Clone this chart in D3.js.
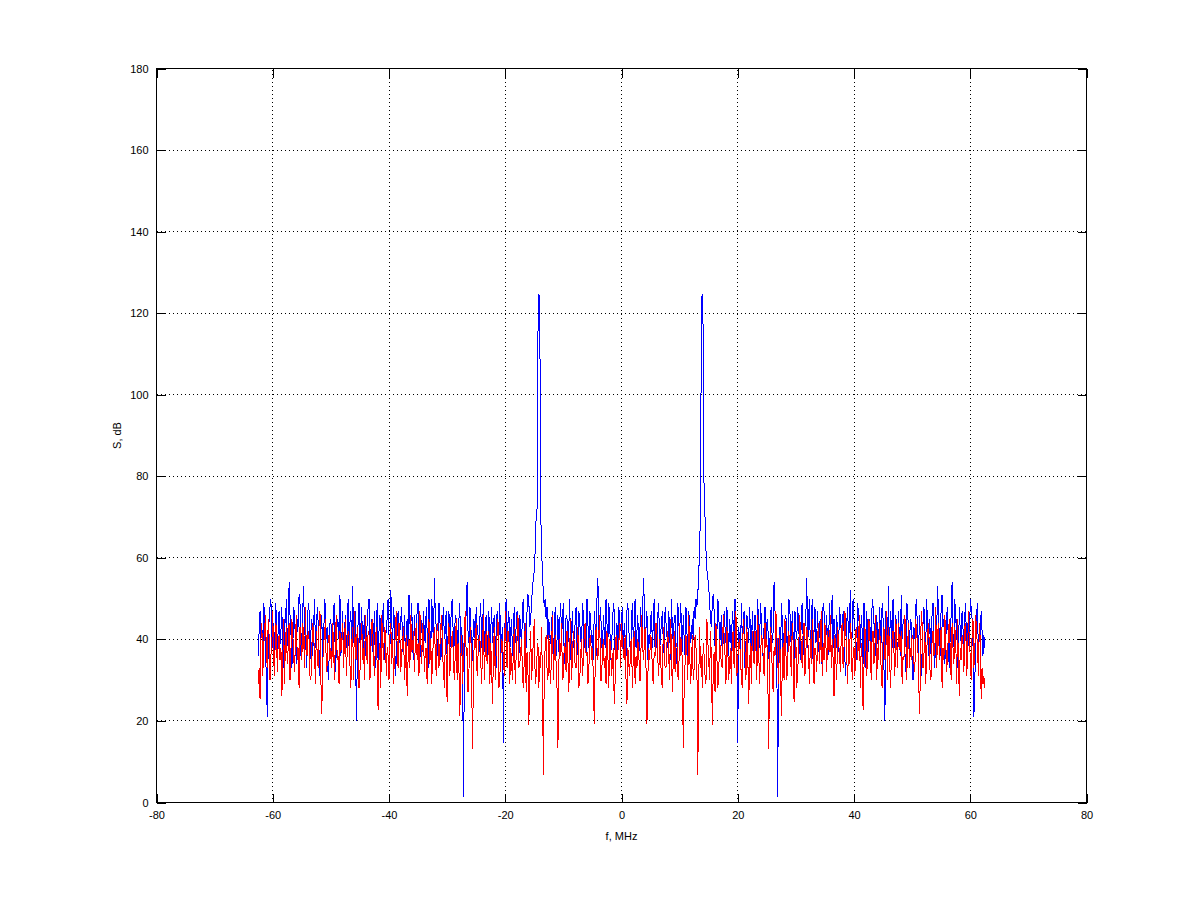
<!DOCTYPE html>
<html>
<head>
<meta charset="utf-8">
<script src="https://cdn.jsdelivr.net/npm/d3@7"></script>
<style>
  body { margin: 0; background: #fff; }
  svg { display: block; }
  text { font-family: "Liberation Sans", Arial, sans-serif; font-size: 11px; fill: #000; }
</style>
</head>
<body>
<div id="spectrum"></div>
<script>
// frequency grid of the spectrum (MHz), FFT bins
const freqStart = -62.5;
const freqStep = 0.15625;

const xTicks = [-80, -60, -40, -20, 0, 20, 40, 60, 80];
const yTicks = [0, 20, 40, 60, 80, 100, 120, 140, 160, 180];

// spectrum with the tones, dB
const blueDb = [
  36, 42, 47, 40, 44, 35, 49, 46, 38, 30, 21, 39, 45, 48, 50, 37, 41, 44, 35, 49, 46, 34, 43, 47, 39, 42, 48, 36, 33, 45, 44, 50, 40, 38, 54, 46, 42, 33, 37, 48,
  46, 39, 34, 45, 43, 51, 49, 36, 40, 47, 53, 41, 45, 33, 38, 49, 47, 35, 42, 45, 36, 43, 50, 38, 41, 48, 44, 37, 31, 42, 46, 34, 39, 50, 48, 40, 43, 30, 35, 44,
  45, 37, 41, 48, 49, 32, 37, 45, 44, 40, 51, 36, 40, 47, 33, 42, 46, 38, 42, 50, 38, 44, 47, 35, 53, 39, 43, 47, 20, 33, 45, 49, 39, 43, 48, 36, 41, 46, 36, 41,
  44, 48, 50, 36, 42, 45, 37, 41, 47, 33, 40, 49, 34, 42, 46, 38, 43, 46, 49, 35, 38, 43, 45, 50, 41, 37, 52, 44, 39, 48, 44, 31, 35, 42, 47, 39, 42, 45, 48, 37,
  40, 46, 36, 42, 45, 38, 51, 44, 43, 49, 38, 35, 46, 40, 41, 47, 49, 39, 34, 45, 44, 37, 47, 41, 39, 48, 42, 33, 50, 43, 37, 50, 45, 38, 55, 46, 43, 36, 40, 49,
  46, 35, 38, 44, 48, 40, 42, 47, 35, 41, 47, 37, 44, 49, 50, 36, 40, 46, 45, 42, 37, 45, 49, 33, 43, 38, 1.3, 36, 41, 47, 54, 42, 39, 48, 46, 34, 36, 45, 44, 39,
  48, 43, 41, 36, 45, 49, 38, 42, 50, 37, 43, 46, 36, 41, 47, 35, 42, 48, 39, 44, 46, 39, 33, 47, 44, 40, 49, 36, 40, 43, 14.7, 41, 45, 50, 38, 44, 47, 37, 42, 45,
  36, 44, 48, 39, 43, 47, 40, 35, 46, 42, 38, 48, 50, 41, 44, 38, 47, 51, 49, 43, 45, 49, 53, 55, 57, 62, 70, 72, 115, 124.7, 123, 72, 62, 56, 51, 48, 50, 45, 48, 40,
  45, 41, 39, 44, 47, 36, 42, 48, 36, 40, 46, 37, 44, 49, 40, 45, 49, 34, 38, 46, 45, 39, 43, 50, 35, 42, 47, 38, 41, 44, 48, 36, 39, 47, 44, 41, 37, 49, 46, 38,
  42, 37, 50, 44, 38, 47, 45, 39, 41, 35, 47, 43, 36, 50, 55, 41, 43, 48, 40, 36, 46, 42, 38, 50, 44, 39, 49, 45, 35, 40, 42, 49, 47, 36, 40, 44, 37, 48, 45, 42,
  45, 48, 37, 44, 40, 36, 47, 49, 42, 40, 35, 45, 49, 39, 44, 50, 38, 42, 46, 36, 40, 48, 43, 41, 55, 50, 36, 43, 47, 35, 41, 39, 45, 47, 38, 44, 50, 37, 42,
  38, 46, 49, 37, 41, 44, 47, 39, 36, 48, 44, 41, 38, 47, 42, 35, 50, 43, 39, 45, 46, 38, 34, 49, 45, 40, 49, 44, 37, 46, 40, 36, 48, 42, 36, 47, 44, 39, 41, 45,
  40, 48, 45, 50, 48, 51, 56, 62, 72, 123, 124.7, 115, 72, 70, 62, 57, 55, 53, 49, 45, 43, 49, 51, 47, 38, 44, 41, 50, 48, 38, 42, 46, 35, 40, 47, 43, 39, 48, 44, 36,
  45, 42, 37, 47, 44, 38, 50, 45, 41, 14.7, 43, 40, 36, 49, 40, 44, 47, 33, 39, 46, 44, 39, 48, 42, 35, 47, 41, 36, 46, 43, 37, 50, 42, 38, 49, 45, 36, 41, 43, 48,
  39, 44, 45, 36, 34, 46, 48, 39, 42, 54, 47, 41, 36, 1.3, 38, 43, 33, 49, 45, 37, 42, 45, 46, 40, 36, 50, 49, 44, 37, 47, 41, 35, 47, 42, 40, 48, 44, 38, 35, 46,
  49, 40, 36, 43, 46, 55, 38, 45, 50, 37, 43, 50, 33, 42, 48, 39, 41, 47, 37, 44, 45, 34, 39, 49, 47, 41, 40, 46, 35, 38, 49, 43, 44, 51, 38, 45, 42, 36, 46, 40,
  37, 48, 45, 42, 39, 47, 42, 35, 31, 44, 48, 39, 44, 52, 37, 41, 50, 45, 43, 38, 35, 49, 46, 43, 38, 46, 42, 34, 49, 40, 33, 47, 41, 37, 45, 42, 36, 50, 48, 44,
  41, 36, 46, 41, 36, 48, 43, 39, 49, 45, 33, 20, 47, 43, 39, 53, 35, 47, 44, 38, 50, 42, 38, 46, 42, 33, 47, 40, 36, 51, 40, 44, 45, 37, 32, 49, 48, 41, 37, 45,
  44, 35, 30, 43, 40, 48, 50, 39, 34, 46, 42, 31, 37, 44, 48, 41, 38, 50, 43, 36, 45, 42, 35, 47, 49, 38, 33, 45, 41, 53, 47, 40, 36, 49, 51, 43, 45, 34, 39, 46,
  48, 37, 33, 42, 46, 54, 38, 40, 50, 44, 45, 33, 36, 48, 42, 39, 47, 43, 34, 46, 49, 35, 44, 41, 37, 50, 48, 45, 39, 21, 30, 38, 46, 49, 35, 44, 40, 47, 42, 36,
  41, 38
];

// spectrum after suppression, dB
const redDb = [
  29, 33, 25.5, 40, 44, 31, 38, 42, 46, 37, 33, 45, 41, 30, 36, 39, 47, 35, 31, 44, 43, 32, 39, 41, 35, 38, 26, 34, 45, 29, 40, 43, 34, 38, 44, 30, 37, 45, 42, 36,
  32, 40, 46, 35, 38, 28, 43, 39, 35, 44, 41, 33, 48, 37, 36, 42, 40, 31, 30, 38, 44, 41, 37, 29, 42, 36, 33, 44, 47, 30, 21.8, 34, 39, 41, 45, 32, 34, 40, 41, 35,
  38, 33, 44, 38, 30, 41, 46, 35, 36, 29, 42, 37, 39, 44, 33, 40, 45, 31, 37, 42, 41, 34, 28, 39, 43, 30, 47, 36, 35, 43, 40, 28, 32, 39, 44, 35, 38, 30, 46, 38,
  34, 42, 41, 30, 37, 44, 45, 36, 31, 39, 43, 33, 22.8, 35, 39, 28, 46, 40, 35, 43, 42, 31, 38, 36, 30, 41, 44, 34, 40, 29, 36, 42, 47, 38, 33, 44, 41, 32, 37, 39,
  43, 30, 35, 41, 26, 35, 40, 33, 46, 37, 38, 42, 32, 39, 44, 35, 39, 31, 47, 40, 34, 44, 41, 32, 37, 38, 29, 42, 45, 34, 40, 29, 36, 40, 43, 37, 31, 44, 42, 33,
  38, 43, 46, 36, 33, 28, 40, 35, 24.6, 39, 44, 31, 37, 40, 42, 34, 30, 37, 45, 30, 39, 33, 21.3, 35, 41, 29, 35, 42, 47, 36, 38, 27, 32, 40, 43, 30, 13.2, 33, 40, 38,
  44, 31, 36, 40, 41, 35, 29, 38, 46, 30, 38, 42, 34, 36, 42, 29, 39, 33, 24.2, 37, 43, 30, 37, 41, 45, 28, 31, 35, 40, 39, 35, 31, 47, 38, 33, 42, 41, 29, 38, 34,
  30, 38, 43, 29, 36, 41, 46, 33, 34, 37, 40, 31, 28, 36, 44, 27, 37, 32, 19, 35, 42, 30, 35, 40, 45, 29, 31, 36, 39, 28, 36, 33, 43, 29, 6.8, 34, 38, 41, 33, 30,
  41, 33, 29, 38, 46, 30, 37, 41, 34, 28, 13.4, 34, 40, 36, 44, 30, 31, 39, 38, 32, 42, 35, 27, 38, 45, 30, 36, 42, 39, 33, 33, 39, 43, 28, 30, 36, 40, 31, 35, 42,
  44, 36, 37, 29, 32, 40, 41, 35, 38, 31, 19.2, 33, 43, 38, 35, 41, 46, 30, 30, 37, 40, 33, 36, 29, 42, 36, 28, 40, 39, 31, 34, 38, 24.2, 30, 41, 35, 37, 39, 44, 33,
  44, 39, 37, 35, 41, 30, 24.2, 38, 34, 31, 39, 40, 28, 36, 42, 29, 36, 33, 40, 37, 30, 30, 46, 41, 35, 38, 43, 33, 19.2, 31, 38, 35, 41, 40, 32, 29, 37, 36, 44,
  42, 35, 31, 40, 36, 30, 28, 43, 39, 33, 33, 39, 42, 36, 30, 45, 38, 27, 35, 42, 32, 38, 39, 31, 30, 44, 36, 40, 34, 13.4, 28, 34, 41, 37, 30, 46, 38, 29, 33, 41,
  30, 33, 41, 38, 34, 6.8, 29, 43, 33, 36, 28, 39, 36, 31, 29, 45, 40, 35, 30, 42, 35, 19, 32, 37, 27, 44, 36, 28, 31, 40, 37, 34, 33, 46, 41, 36, 29, 43, 38, 30,
  34, 38, 29, 41, 42, 33, 38, 47, 31, 35, 39, 40, 35, 31, 28, 45, 41, 37, 30, 43, 37, 24.2, 33, 39, 29, 42, 36, 34, 42, 38, 30, 46, 38, 29, 35, 41, 40, 36, 31, 44,
  38, 40, 33, 13.2, 30, 43, 40, 32, 27, 38, 36, 47, 42, 35, 29, 41, 35, 21.3, 33, 39, 30, 45, 37, 30, 34, 42, 40, 37, 31, 44, 39, 24.6, 35, 40, 28, 33, 36, 46, 43, 38,
  33, 42, 44, 31, 37, 43, 40, 36, 29, 40, 34, 45, 42, 29, 38, 37, 32, 41, 44, 34, 40, 47, 31, 39, 35, 44, 39, 32, 42, 38, 37, 46, 33, 40, 35, 26, 41, 35, 30, 43,
  39, 37, 32, 41, 44, 33, 38, 47, 42, 36, 29, 40, 34, 44, 41, 30, 36, 38, 31, 42, 43, 35, 40, 46, 28, 39, 35, 22.8, 33, 43, 39, 31, 36, 45, 44, 37, 30, 41, 42, 34,
  38, 46, 30, 38, 35, 44, 39, 32, 28, 40, 43, 35, 36, 47, 30, 43, 39, 28, 34, 41, 42, 37, 31, 45, 40, 33, 44, 39, 37, 42, 29, 36, 35, 46, 41, 30, 38, 44, 33, 38,
  35, 41, 40, 34, 32, 45, 41, 39, 34, 21.8, 30, 47, 44, 33, 36, 42, 29, 37, 41, 44, 38, 30, 31, 40, 42, 36, 37, 48, 33, 41, 44, 35, 39, 43, 28, 38, 35, 46, 40, 32,
  36, 42, 45, 37, 30, 44, 38, 34, 43, 40, 29, 45, 34, 26, 38, 35, 41, 39, 32, 43, 44, 31, 35, 47, 39, 36, 30, 41, 45, 33, 37, 46, 42, 38, 31, 44, 40, 25.5, 33, 29,
  31, 28
];

const freqs = blueDb.map((d, i) => freqStart + i * freqStep);

const width = 1200;
const height = 901;
const plot = { left: 156.5, right: 1086.5, top: 68.5, bottom: 802.5 };
const tickLen = 9;

const svg = d3.select('#spectrum')
  .append('svg')
    .attr('width', width)
    .attr('height', height);

svg.append('rect')
  .attr('width', width)
  .attr('height', height)
  .attr('fill', '#fff');

const x = d3.scaleLinear()
  .domain([-80, 80])
  .range([plot.left, plot.right]);

const y = d3.scaleLinear()
  .domain([0, 180])
  .range([plot.bottom, plot.top]);

// dotted grid
const grid = svg.append('g')
  .attr('class', 'grid')
  .attr('stroke', '#000')
  .attr('stroke-width', 1)
  .attr('stroke-dasharray', '1,3')
  .attr('shape-rendering', 'crispEdges');

grid.selectAll('.vgrid')
  .data(xTicks.slice(1, -1))
  .enter().append('line')
    .attr('class', 'vgrid')
    .attr('x1', d => x(d))
    .attr('x2', d => x(d))
    .attr('y1', plot.bottom)
    .attr('y2', plot.top);

grid.selectAll('.hgrid')
  .data(yTicks.slice(1, -1))
  .enter().append('line')
    .attr('class', 'hgrid')
    .attr('x1', plot.left)
    .attr('x2', plot.right)
    .attr('y1', d => y(d))
    .attr('y2', d => y(d));

// spectra
const line = d3.line()
  .x((d, i) => x(freqs[i]))
  .y(d => y(d));

svg.append('path')
  .datum(blueDb)
  .attr('fill', 'none')
  .attr('stroke', '#0000ff')
  .attr('stroke-width', 1)
  .attr('shape-rendering', 'crispEdges')
  .attr('d', line);

svg.append('path')
  .datum(redDb)
  .attr('fill', 'none')
  .attr('stroke', '#ff0000')
  .attr('stroke-width', 1)
  .attr('shape-rendering', 'crispEdges')
  .attr('d', line);

// axes, ticks pointing inwards on all four sides
const axisStyle = g => {
  g.select('.domain').remove();
  g.selectAll('.tick line').attr('stroke', '#000').attr('shape-rendering', 'crispEdges');
  g.selectAll('.tick text').attr('fill', '#000').style('font-size', '11px');
  g.attr('font-family', null).attr('font-size', null);
};

svg.append('g')
  .attr('transform', `translate(0,${plot.bottom})`)
  .call(d3.axisBottom(x).tickValues(xTicks).tickSize(-tickLen).tickPadding(9).tickFormat(d3.format('d')))
  .call(axisStyle);

svg.append('g')
  .attr('transform', `translate(0,${plot.top})`)
  .call(d3.axisTop(x).tickValues(xTicks).tickSize(-tickLen).tickFormat(''))
  .call(axisStyle);

svg.append('g')
  .attr('transform', `translate(${plot.left},0)`)
  .call(d3.axisLeft(y).tickValues(yTicks).tickSize(-tickLen).tickPadding(8).tickFormat(d3.format('d')))
  .call(axisStyle);

svg.append('g')
  .attr('transform', `translate(${plot.right},0)`)
  .call(d3.axisRight(y).tickValues(yTicks).tickSize(-tickLen).tickFormat(''))
  .call(axisStyle);

// plain hyphen minus like the original
svg.selectAll('.tick text').text(function() { return this.textContent.replace('\u2212', '-'); });

svg.append('rect')
  .attr('x', plot.left)
  .attr('y', plot.top)
  .attr('width', plot.right - plot.left)
  .attr('height', plot.bottom - plot.top)
  .attr('fill', 'none')
  .attr('stroke', '#000')
  .attr('shape-rendering', 'crispEdges');

svg.append('text')
  .attr('x', x(0))
  .attr('y', 840)
  .attr('text-anchor', 'middle')
  .text('f, MHz');

svg.append('text')
  .attr('transform', `translate(121,${(plot.top + plot.bottom) / 2}) rotate(-90)`)
  .attr('text-anchor', 'middle')
  .text('S, dB');
</script>
</body>
</html>
